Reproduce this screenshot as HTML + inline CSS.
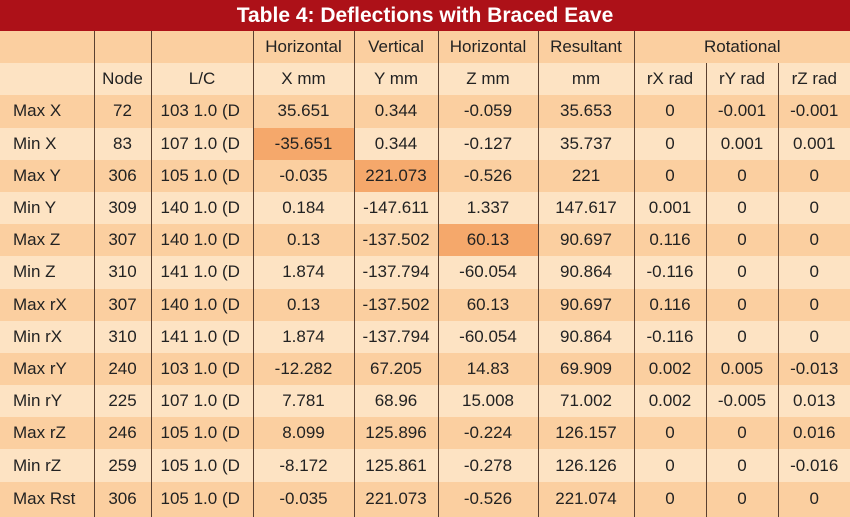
<!DOCTYPE html><html><head><style>
body{margin:0;width:850px;height:514px;overflow:hidden;font-family:"Liberation Sans",Arial,sans-serif;background:#fbcfa0}
#t{position:absolute;left:0;top:0;width:850px;height:31px;background:#ad1118;color:#fff;font-weight:bold;font-size:21px;text-align:center;line-height:31px}
table{position:absolute;left:0;top:31px;border-collapse:collapse;table-layout:fixed;width:850px}
td{height:32.2px;padding:0;text-align:center;font-size:17px;color:#222;border-left:1px solid #5a4030;white-space:nowrap;overflow:hidden}
td:first-child{border-left:none;text-align:left;padding-left:13px}
tr.d{background:#fbcfa0}tr.l{background:#fde3c3}
tr:last-child td{height:35px}
td.h{background:#f5a86b}
td.lc{text-align:left;padding-left:9px}
</style></head><body>
<div id="t">Table 4: Deflections with Braced Eave</div>
<table>
<colgroup><col style="width:94px"><col style="width:57px"><col style="width:102px"><col style="width:101px"><col style="width:84px"><col style="width:100px"><col style="width:96px"><col style="width:72px"><col style="width:72px"><col style="width:72px"></colgroup>
<tr class="d"><td></td><td></td><td></td><td>Horizontal</td><td>Vertical</td><td>Horizontal</td><td>Resultant</td><td colspan="3">Rotational</td></tr>
<tr class="l"><td></td><td>Node</td><td>L/C</td><td>X mm</td><td>Y mm</td><td>Z mm</td><td>mm</td><td>rX rad</td><td>rY rad</td><td>rZ rad</td></tr>
<tr class="d"><td>Max X</td><td>72</td><td class="lc">103 1.0 (D</td><td>35.651</td><td>0.344</td><td>-0.059</td><td>35.653</td><td>0</td><td>-0.001</td><td>-0.001</td></tr>
<tr class="l"><td>Min X</td><td>83</td><td class="lc">107 1.0 (D</td><td class="h">-35.651</td><td>0.344</td><td>-0.127</td><td>35.737</td><td>0</td><td>0.001</td><td>0.001</td></tr>
<tr class="d"><td>Max Y</td><td>306</td><td class="lc">105 1.0 (D</td><td>-0.035</td><td class="h">221.073</td><td>-0.526</td><td>221</td><td>0</td><td>0</td><td>0</td></tr>
<tr class="l"><td>Min Y</td><td>309</td><td class="lc">140 1.0 (D</td><td>0.184</td><td>-147.611</td><td>1.337</td><td>147.617</td><td>0.001</td><td>0</td><td>0</td></tr>
<tr class="d"><td>Max Z</td><td>307</td><td class="lc">140 1.0 (D</td><td>0.13</td><td>-137.502</td><td class="h">60.13</td><td>90.697</td><td>0.116</td><td>0</td><td>0</td></tr>
<tr class="l"><td>Min Z</td><td>310</td><td class="lc">141 1.0 (D</td><td>1.874</td><td>-137.794</td><td>-60.054</td><td>90.864</td><td>-0.116</td><td>0</td><td>0</td></tr>
<tr class="d"><td>Max rX</td><td>307</td><td class="lc">140 1.0 (D</td><td>0.13</td><td>-137.502</td><td>60.13</td><td>90.697</td><td>0.116</td><td>0</td><td>0</td></tr>
<tr class="l"><td>Min rX</td><td>310</td><td class="lc">141 1.0 (D</td><td>1.874</td><td>-137.794</td><td>-60.054</td><td>90.864</td><td>-0.116</td><td>0</td><td>0</td></tr>
<tr class="d"><td>Max rY</td><td>240</td><td class="lc">103 1.0 (D</td><td>-12.282</td><td>67.205</td><td>14.83</td><td>69.909</td><td>0.002</td><td>0.005</td><td>-0.013</td></tr>
<tr class="l"><td>Min rY</td><td>225</td><td class="lc">107 1.0 (D</td><td>7.781</td><td>68.96</td><td>15.008</td><td>71.002</td><td>0.002</td><td>-0.005</td><td>0.013</td></tr>
<tr class="d"><td>Max rZ</td><td>246</td><td class="lc">105 1.0 (D</td><td>8.099</td><td>125.896</td><td>-0.224</td><td>126.157</td><td>0</td><td>0</td><td>0.016</td></tr>
<tr class="l"><td>Min rZ</td><td>259</td><td class="lc">105 1.0 (D</td><td>-8.172</td><td>125.861</td><td>-0.278</td><td>126.126</td><td>0</td><td>0</td><td>-0.016</td></tr>
<tr class="d"><td>Max Rst</td><td>306</td><td class="lc">105 1.0 (D</td><td>-0.035</td><td>221.073</td><td>-0.526</td><td>221.074</td><td>0</td><td>0</td><td>0</td></tr>
</table>
</body></html>
